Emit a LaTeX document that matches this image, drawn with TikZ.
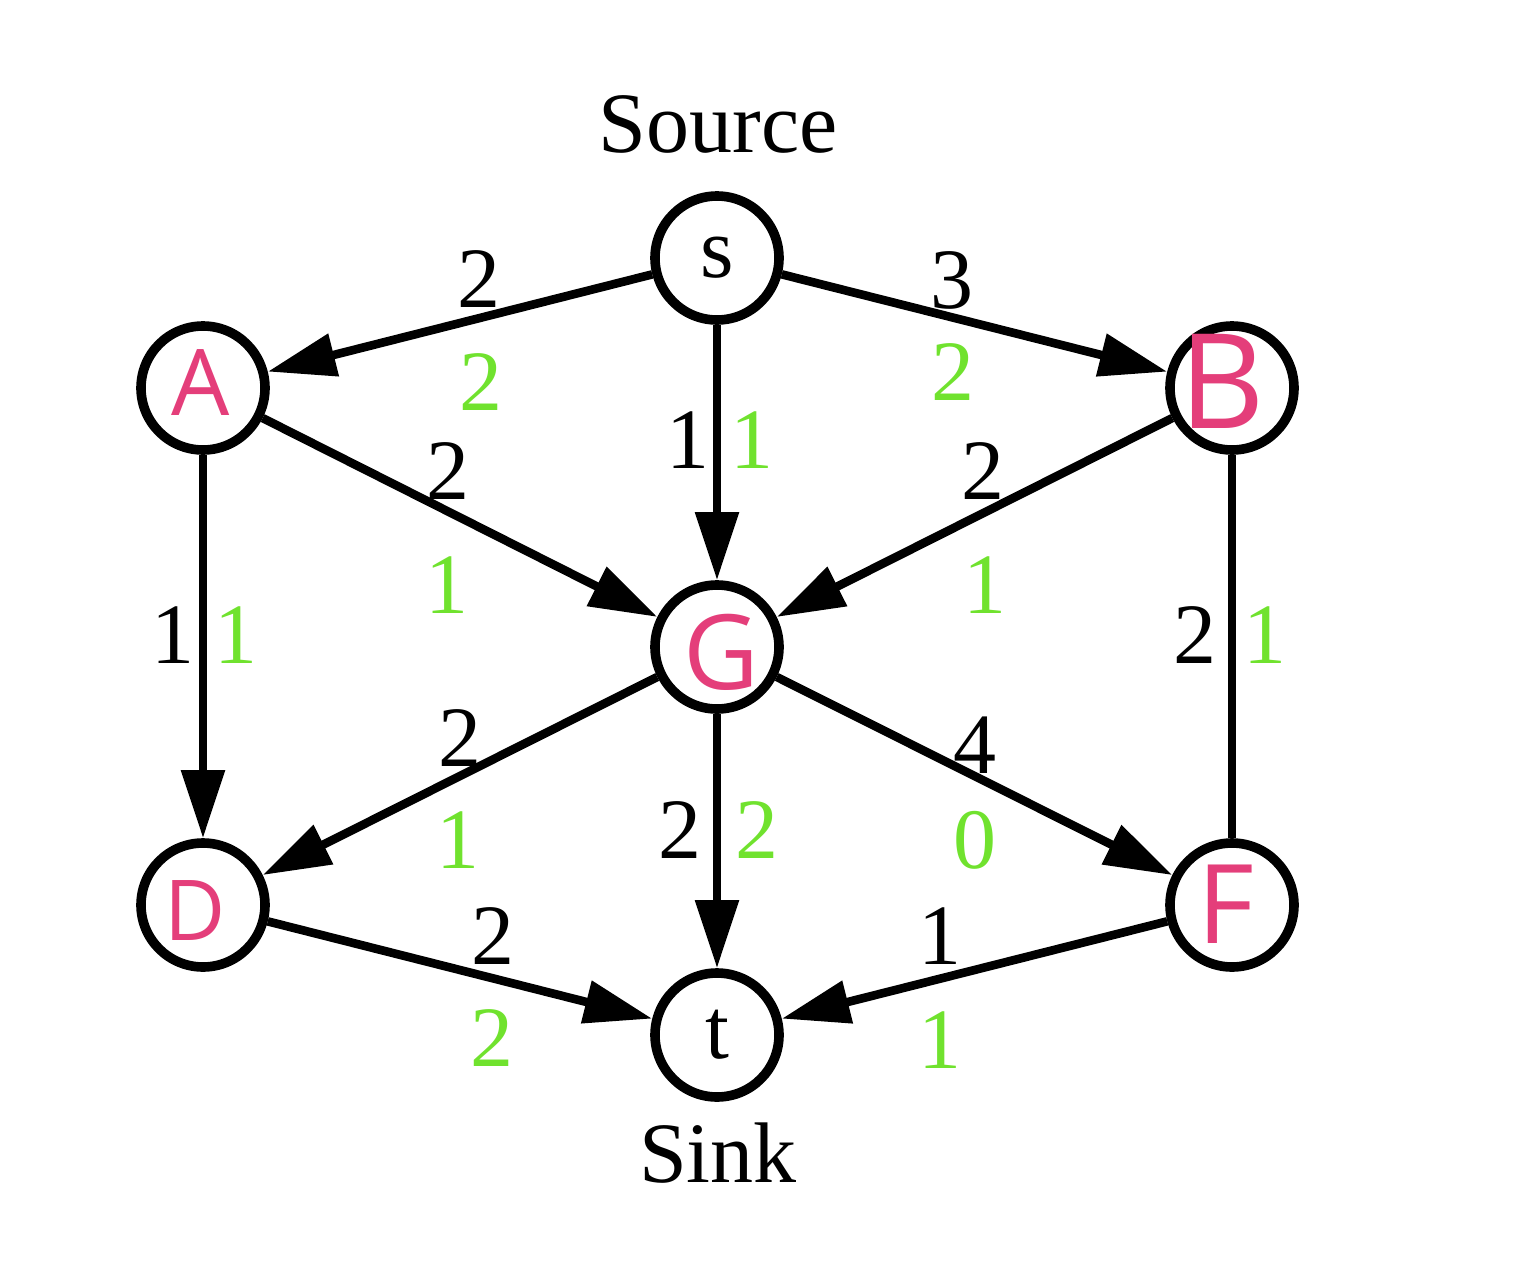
\documentclass[tikz,border=0pt]{standalone}
\usepackage{fontspec}
\setmainfont{Liberation Serif}
\newfontfamily\handfont{Open Sans}
\usetikzlibrary{arrows.meta}
\definecolor{flowgreen}{RGB}{112,226,46}
\definecolor{markpink}{RGB}{228,62,122}
\begin{document}
\begin{tikzpicture}[x=0.5pt,y=-0.5pt,
  vertex/.style={circle,draw,line width=4.8pt,minimum size=62pt,inner sep=0pt,
    font=\fontsize{43}{48}\selectfont},
  hand/.style={inner sep=0pt,text=markpink},
  cnum/.style={inner sep=0pt,font=\fontsize{43}{48}\selectfont},
  fnum/.style={cnum,text=flowgreen},
  arc/.style={line width=4.3pt,-{Triangle[length=34pt,width=21pt]}},
  plain/.style={line width=4.3pt}]
\useasboundingbox (0,0) rectangle (1528,1264);

% vertices
\node[vertex] (s) at (717,258) {s};
\node[vertex] (A) at (203,388) {};
\node[vertex] (B) at (1232,388) {};
\node[vertex] (G) at (717,647) {};
\node[vertex] (D) at (203,905) {};
\node[vertex] (F) at (1232,905) {};
\node[vertex] (t) at (717,1035) {t};

% handwritten vertex letters
\node[hand] (lA) at (201,383) {\handfont\fontsize{46}{50}\selectfont A};
\node[hand] (lB) at (1222,381) {\handfont\fontsize{66}{70}\selectfont B};
\node[hand] (lG) at (721,652) {\handfont\fontsize{52}{56}\selectfont G};
\node[hand] (lD) at (195,911) {\handfont\fontsize{42}{46}\selectfont D};
\node[hand] (lF) at (1226,904) {\handfont\fontsize{55}{60}\selectfont F};

% captions
\node[cnum] (source) at (718,124) {Source};
\node[cnum] (sink) at (718,1153) {Sink};

% edges
\draw[arc] (s) -- (A);
\draw[arc] (s) -- (B);
\draw[arc] (s) -- (G);
\draw[arc] (A) -- (G);
\draw[arc] (B) -- (G);
\draw[arc] (A) -- (D);
\draw[plain] (B) -- (F);
\draw[arc] (G) -- (D);
\draw[arc] (G) -- (t);
\draw[arc] (G) -- (F);
\draw[arc] (D) -- (t);
\draw[arc] (F) -- (t);

% capacities (black) and flows (green)
\node[cnum] (cSA) at (479,279) {2};
\node[fnum] (fSA) at (481,382) {2};
\node[cnum] (cSB) at (952,280) {3};
\node[fnum] (fSB) at (953,372) {2};
\node[cnum] (cSG) at (688,440) {1};
\node[fnum] (fSG) at (752,440) {1};
\node[cnum] (cAG) at (448,471) {2};
\node[fnum] (fAG) at (447,585) {1};
\node[cnum] (cBG) at (983,471) {2};
\node[fnum] (fBG) at (985,585) {1};
\node[cnum] (cAD) at (173,635) {1};
\node[fnum] (fAD) at (236,635) {1};
\node[cnum] (cBF) at (1195,635) {2};
\node[fnum] (fBF) at (1265,635) {1};
\node[cnum] (cGD) at (460,738) {2};
\node[fnum] (fGD) at (458,840) {1};
\node[cnum] (cGt) at (680,830) {2};
\node[fnum] (fGt) at (757,830) {2};
\node[cnum] (cGF) at (975,745) {4};
\node[fnum] (fGF) at (975,840) {0};
\node[cnum] (cDt) at (493,936) {2};
\node[fnum] (fDt) at (492,1038) {2};
\node[cnum] (cFt) at (940,936) {1};
\node[fnum] (fFt) at (940,1040) {1};
\end{tikzpicture}
\end{document}
